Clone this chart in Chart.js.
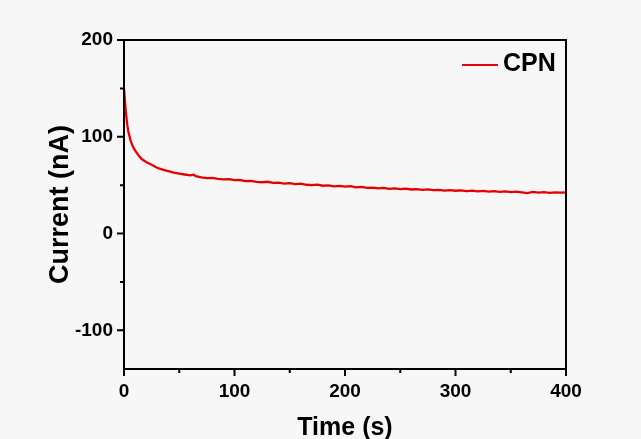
<!DOCTYPE html>
<html>
<head>
<meta charset="utf-8">
<script src="https://cdn.jsdelivr.net/npm/chart.js@4"></script>
<style>
  html, body { margin: 0; padding: 0; background: #f7f7f7; }
  #wrap { width: 641px; height: 439px; }
</style>
</head>
<body>
<div id="wrap"><canvas id="chart" width="641" height="439"></canvas></div>
<script>
// time (s) and current (nA)
const timeS = [0, 1, 2, 3, 4, 6, 8, 10, 13, 16, 20, 25, 30, 35, 40, 45, 50, 55, 60, 63, 65, 70,
  75, 80, 85, 90, 95, 100, 105, 110, 115, 120, 125, 130, 135, 140, 145, 150, 155, 160, 165,
  170, 175, 180, 185, 190, 195, 200, 205, 210, 215, 220, 225, 230, 235, 240, 245, 250, 255,
  260, 265, 270, 275, 280, 285, 290, 295, 300, 305, 310, 315, 320, 325, 330, 335, 340, 345,
  350, 355, 360, 365, 370, 375, 380, 385, 390, 395, 400];
const currentNA = [150, 135, 122, 112, 105, 96, 90, 86, 81, 77, 74, 71, 68, 66, 64.5, 63, 62, 61, 60.2, 60.8, 59.4, 58.0,
  57.2, 57.6, 56.4, 56.0, 56.2, 55.1, 55.3, 54.2, 54.5, 53.4, 53.0, 53.5, 52.3, 52.6, 51.6, 52.0, 51.0, 51.5, 50.4,
  50.1, 50.6, 49.4, 49.8, 48.8, 49.2, 48.4, 48.9, 47.7, 48.2, 47.1, 47.5, 46.7, 47.2, 46.2, 46.6, 45.9, 46.3,
  45.5, 45.9, 45.1, 45.6, 44.8, 45.2, 44.4, 44.9, 44.2, 44.6, 43.9, 44.3, 43.6, 44.0, 43.4, 43.8, 43.1, 43.5,
  42.8, 43.3, 42.6, 41.8, 43.0, 42.3, 42.7, 42.1, 42.6, 42.3, 42.6];
const seriesName = 'CPN';
const xMajor = [0, 100, 200, 300, 400];
const xMinor = [50, 150, 250, 350];
const yMajor = [-100, 0, 100, 200];
const yMinor = [-50, 50, 150];

const points = timeS.map((t, i) => ({ x: t, y: currentNA[i] }));
const FONT = '"Liberation Sans", Arial, sans-serif';

const frame = {
  id: 'frame',
  afterDraw(chart) {
    const { ctx, chartArea: a, scales } = chart;
    ctx.save();
    ctx.strokeStyle = '#000';
    ctx.lineWidth = 2;
    ctx.strokeRect(a.left, a.top, a.right - a.left, a.bottom - a.top);
    ctx.beginPath();
    xMajor.forEach(v => { const p = scales.x.getPixelForValue(v); ctx.moveTo(p, a.bottom); ctx.lineTo(p, a.bottom + 7); });
    xMinor.forEach(v => { const p = scales.x.getPixelForValue(v); ctx.moveTo(p, a.bottom); ctx.lineTo(p, a.bottom + 4); });
    yMajor.forEach(v => { const p = scales.y.getPixelForValue(v); ctx.moveTo(a.left, p); ctx.lineTo(a.left - 7, p); });
    yMinor.forEach(v => { const p = scales.y.getPixelForValue(v); ctx.moveTo(a.left, p); ctx.lineTo(a.left - 4, p); });
    ctx.stroke();
    // legend inside plot, top right
    ctx.strokeStyle = '#e60000';
    ctx.beginPath();
    ctx.moveTo(a.right - 104, a.top + 25);
    ctx.lineTo(a.right - 68, a.top + 25);
    ctx.stroke();
    ctx.fillStyle = '#000';
    ctx.font = 'bold 25px ' + FONT;
    ctx.textBaseline = 'middle';
    ctx.fillText(seriesName, a.right - 63, a.top + 24);
    ctx.restore();
  }
};

new Chart(document.getElementById('chart'), {
  type: 'line',
  data: {
    datasets: [{
      label: seriesName,
      data: points,
      borderColor: '#e60000',
      borderWidth: 2.3,
      pointRadius: 0,
      tension: 0,
      fill: false
    }]
  },
  options: {
    responsive: false,
    animation: false,
    layout: { padding: { top: 40, right: 75, left: 40, bottom: 0 } },
    plugins: { legend: { display: false }, tooltip: { enabled: false } },
    scales: {
      x: {
        type: 'linear',
        min: 0, max: 400,
        afterBuildTicks: s => { s.ticks = xMajor.map(v => ({ value: v })); },
        afterFit: s => { s.height = 70; },
        grid: { display: false, drawTicks: false },
        border: { display: false },
        ticks: { color: '#000', font: { family: FONT, size: 19, weight: 'bold' }, padding: 11, maxRotation: 0 },
        title: { display: true, text: 'Time (s)', color: '#000', font: { family: FONT, size: 25, weight: 'bold' }, padding: { top: 0, bottom: -4 } }
      },
      y: {
        min: -140, max: 200,
        afterBuildTicks: s => { s.ticks = yMajor.map(v => ({ value: v })); },
        afterFit: s => { s.width = 84; },
        grid: { display: false, drawTicks: false },
        border: { display: false },
        ticks: { color: '#000', font: { family: FONT, size: 19, weight: 'bold' }, padding: 11 },
        title: { display: true, text: 'Current (nA)', color: '#000', font: { family: FONT, size: 27, weight: 'bold' }, padding: { bottom: 0 } }
      }
    }
  },
  plugins: [frame]
});
</script>
</body>
</html>
